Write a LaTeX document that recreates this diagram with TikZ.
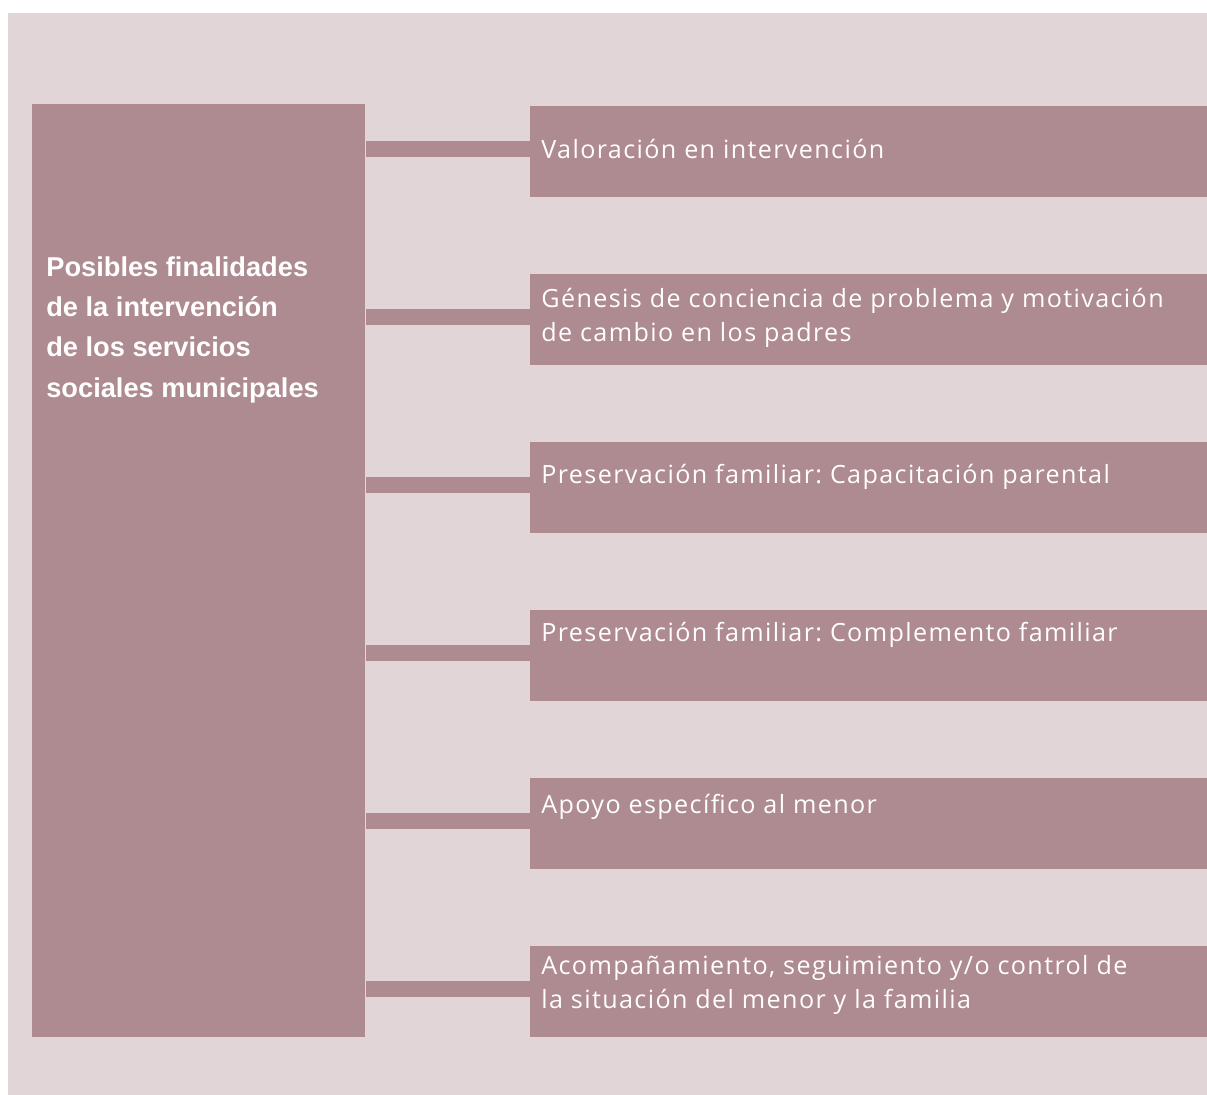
\documentclass[tikz,border=0pt]{standalone}
\usepackage{fontspec}
\usepackage{tikz}
\usetikzlibrary{positioning}
\newfontfamily\itemfont[LetterSpace=5.5]{Open Sans}
\newfontfamily\titlefont{Liberation Sans}
\definecolor{ssmauve}{RGB}{174,138,145}
\definecolor{sspink}{RGB}{225,213,216}
\tikzstyle{goalbox} = [rectangle, anchor=north west, inner sep=0pt, fill=ssmauve, minimum width=13.54cm, minimum height=1.82cm]
\tikzstyle{goaltext} = [anchor=base west, inner sep=0pt, align=left, text=white, font=\itemfont\frenchspacing\fontsize{14.3}{18.8}\selectfont]
\tikzstyle{link} = [draw=ssmauve, line width=0.32cm]

\begin{document}
\begin{tikzpicture}[x=0.02cm, y=-0.02cm]
    \useasboundingbox (0,0) rectangle (1207,1095);
    % Background
    \fill[sspink] (8,13) rectangle (1207,1095);

    % Left box
    \node[rectangle, anchor=north west, inner sep=0pt, fill=ssmauve, minimum width=6.66cm, minimum height=18.66cm] (title) at (32,104) {};
    \node[anchor=base west, inner sep=0pt, align=left, text=white, font=\titlefont\bfseries\fontsize{15.5}{22.8}\selectfont] (titletext) at (46,397) {Posibles finalidades\\de la intervención\\de los servicios\\sociales municipales};

    % Goals
    \node[goalbox] (g1) at (530,106) {};
    \node[goalbox] (g2) at (530,274) {};
    \node[goalbox] (g3) at (530,442) {};
    \node[goalbox] (g4) at (530,610) {};
    \node[goalbox] (g5) at (530,778) {};
    \node[goalbox] (g6) at (530,946) {};

    % (base = last line)
    \node[goaltext] (t1) at (541,158) {Valoración en intervención};
    \node[goaltext] (t2) at (541,341) {Génesis de conciencia de problema y motivación\\de cambio en los padres};
    \node[goaltext] (t3) at (541,483) {Preservación familiar: Capacitación parental};
    \node[goaltext] (t4) at (541,641) {Preservación familiar: Complemento familiar};
    \node[goaltext] (t5) at (541,813) {Apoyo específico al menor};
    \node[goaltext] (t6) at (541,1008) {Acompañamiento, seguimiento y/o control de\\la situación del menor y la familia};

    % Links
    \foreach \g in {1,...,6} {
        \coordinate (c\g) at ([yshift=-0.86cm]g\g.north west);
        \draw[link] (title.east |- c\g) -- (c\g);
    }
\end{tikzpicture}
\end{document}
